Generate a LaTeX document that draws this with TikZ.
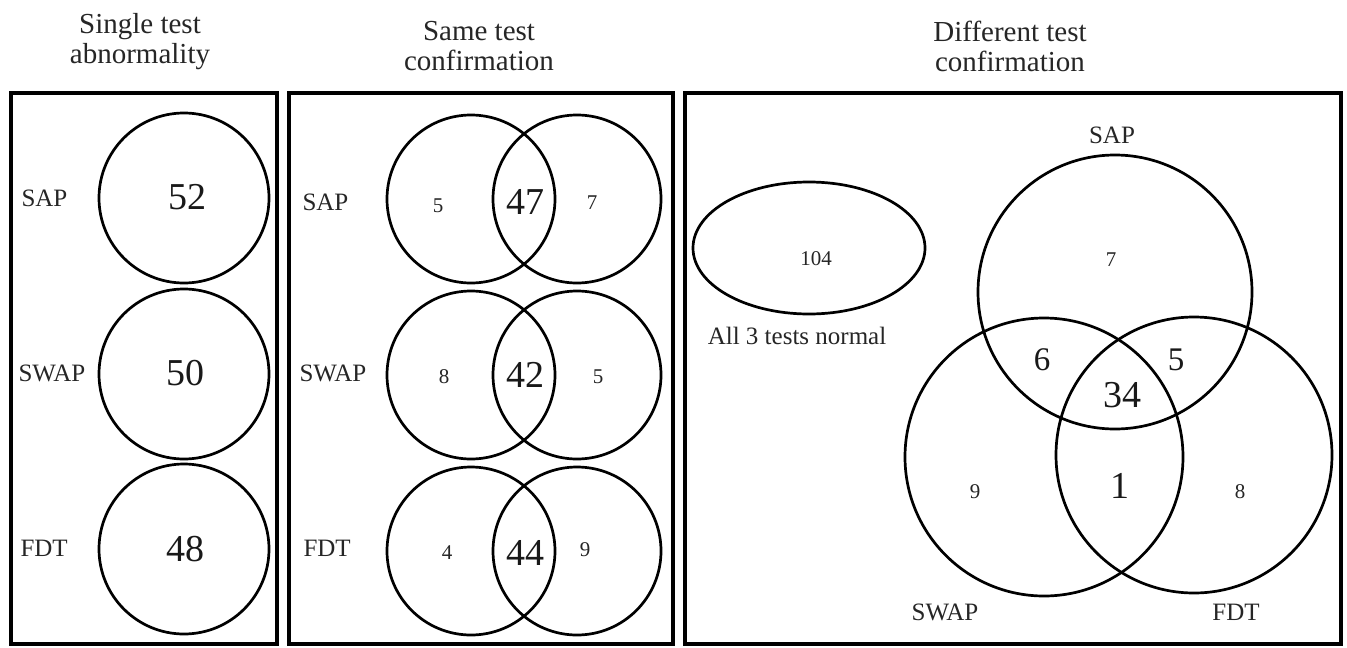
\documentclass[tikz,border=0pt]{standalone}
\usepackage{fontspec}
\newfontfamily\tnr{Liberation Serif}
\usetikzlibrary{shapes.geometric}
\begin{document}
\begin{tikzpicture}[x=1pt,y=-1pt,
  panel/.style={draw, line width=3.2pt},
  ring/.style={draw, circle, line width=2.7pt, minimum size=#1, inner sep=0pt},
  oval/.style={draw, ellipse, line width=2.7pt, minimum width=232pt, minimum height=132pt, inner sep=0pt},
  title/.style={font=\tnr\fontsize{29}{30}\selectfont, align=center, text=black!85},
  lab/.style={font=\tnr\fontsize{25}{27}\selectfont, text=black!85},
  big/.style={font=\tnr\fontsize{38}{40}\selectfont, text=black!90},
  mid/.style={font=\tnr\fontsize{33}{36}\selectfont, text=black!90},
  small/.style={font=\tnr\fontsize{21}{23}\selectfont, text=black!85}]
\path[use as bounding box, fill=white] (0,0) rectangle (1347,648);

% titles
\node[title] (t1) at (140,42) {Single test\\abnormality};
\node[title] (t2) at (479,46) {Same test\\confirmation};
\node[title] (t3) at (1010,46) {Different test\\confirmation};

% panel frames
\draw[panel] (11,93) rectangle (277,644);
\draw[panel] (289,93) rectangle (673,644);
\draw[panel] (685,93) rectangle (1341,644);

% single test abnormality
\node[ring=170pt] (s1) at (184,198) {};
\node[ring=170pt] (s2) at (184,374) {};
\node[ring=170pt] (s3) at (184,549) {};
\node[big] (n52) at (187,197) {52};
\node[big] (n50) at (185,373) {50};
\node[big] (n48) at (185,549) {48};
\node[lab, anchor=west] (l1) at (18,198) {SAP};
\node[lab, anchor=west] (l2) at (15,373) {SWAP};
\node[lab, anchor=west] (l3) at (17,548) {FDT};

% same test confirmation
\node[ring=168pt] (a1) at (471,199) {};
\node[ring=168pt] (b1) at (577,199) {};
\node[ring=168pt] (a2) at (471,375) {};
\node[ring=168pt] (b2) at (577,375) {};
\node[ring=168pt] (a3) at (471,551) {};
\node[ring=168pt] (b3) at (577,551) {};
\node[lab, anchor=west] (m1) at (299,202) {SAP};
\node[lab, anchor=west] (m2) at (296,373) {SWAP};
\node[lab, anchor=west] (m3) at (300,548) {FDT};
\node[small] (p1) at (438,206) {5};
\node[big] (q1) at (525,202) {47};
\node[small] (r1) at (592,203) {7};
\node[small] (p2) at (444,377) {8};
\node[big] (q2) at (525,375) {42};
\node[small] (r2) at (598,377) {5};
\node[small] (p3) at (447,553) {4};
\node[big] (q3) at (525,553) {44};
\node[small] (r3) at (585,550) {9};

% different test confirmation
\node[oval] (none) at (809,248) {};
\node[small] (n104) at (816,259) {104};
\node[lab] (allnorm) at (797,336) {All 3 tests normal};

\node[ring=274pt] (csap) at (1115,292) {};
\node[ring=278pt] (cswap) at (1044,457) {};
\node[ring=276pt] (cfdt) at (1194,455) {};
\node[lab] (lsap) at (1112,135) {SAP};
\node[lab] (lswap) at (945,612) {SWAP};
\node[lab] (lfdt) at (1236,612) {FDT};
\node[small] (d7) at (1111,260) {7};
\node[mid] (d6) at (1042,360) {6};
\node[mid] (d5) at (1176,360) {5};
\node[big] (d34) at (1122,395) {34};
\node[big] (d1) at (1120,486) {1};
\node[small] (d9) at (975,492) {9};
\node[small] (d8) at (1240,492) {8};
\end{tikzpicture}
\end{document}
